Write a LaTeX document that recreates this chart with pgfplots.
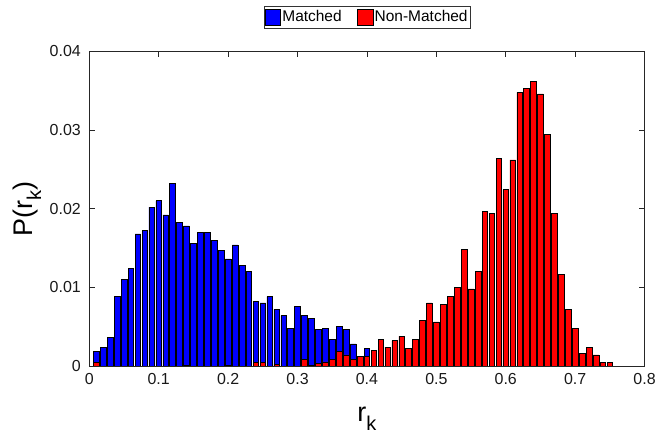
\documentclass[border=0pt]{standalone}
\usepackage{fontspec}
\setmainfont{Liberation Sans}
\usepackage{pgfplots}
\pgfplotsset{compat=1.18}
\newcommand{\sub}[1]{\raisebox{-0.32em}{\fontsize{20}{20}\selectfont #1}}
\begin{document}
\begin{tikzpicture}
\begin{axis}[
  scale only axis,
  width=556.5pt, height=315.2pt,
  xmin=0, xmax=0.8, ymin=0, ymax=0.04,
  xtick={0,0.1,0.2,0.3,0.4,0.5,0.6,0.7,0.8},
  ytick={0,0.01,0.02,0.03,0.04},
  tick pos=both,
  tick align=inside,
  major tick length=6pt,
  tick style={draw=black!85, line width=0.6pt},
  axis line style={draw=black!85, line width=0.7pt},
  /pgf/number format/assume math mode=true,
  /pgf/number format/fixed,
  /pgf/number format/precision=2,
  scaled ticks=false,
  ticklabel style={font=\fontsize{16}{18}\selectfont, text=black!90},
  xticklabel style={yshift=-4pt},
  yticklabel style={xshift=-5pt},
  every axis x label/.style={at={(axis description cs:0.5,-0.168)}, anchor=center},
  every axis y label/.style={at={(axis description cs:-0.112,0.5)}, rotate=90, anchor=center},
  label style={font=\fontsize{27}{30}\selectfont},
  xlabel={r\sub{k}},
  ylabel={P(r\sub{k})},
  legend columns=2,
  legend style={at={(0.5,1.1444)}, anchor=north, draw=black!80, line width=0.6pt,
    font=\fontsize{15.5}{18}\selectfont, inner xsep=1pt, inner ysep=2.5pt,
    nodes={inner xsep=1.5pt, inner ysep=1.5pt},
    /tikz/every even column/.append style={column sep=14pt}},
]
\addplot[ybar, bar width=0.0081, bar shift=0pt, fill={rgb,1:red,0;green,0;blue,1}, draw=black, line width=0.6pt,
  legend image code/.code={\draw[fill={rgb,1:red,0;green,0;blue,1}, draw=black, line width=0.6pt] (0pt,-8pt) rectangle (15.5pt,8pt);}]
coordinates {
(0.01,0.0018) (0.02,0.0024) (0.03,0.0036) (0.04,0.0088) (0.05,0.0110)
(0.06,0.0124) (0.07,0.0168) (0.08,0.0172) (0.09,0.0202) (0.10,0.0210)
(0.11,0.0192) (0.12,0.0232) (0.13,0.0182) (0.14,0.0178) (0.15,0.0156)
(0.16,0.0170) (0.17,0.0170) (0.18,0.0160) (0.19,0.0147) (0.20,0.0136)
(0.21,0.0154) (0.22,0.0128) (0.23,0.0120) (0.24,0.0082) (0.25,0.0080)
(0.26,0.0088) (0.27,0.0072) (0.28,0.0064) (0.29,0.0048) (0.30,0.0076)
(0.31,0.0064) (0.32,0.0060) (0.33,0.0046) (0.34,0.0048) (0.35,0.0034)
(0.36,0.0050) (0.37,0.0046) (0.38,0.0028) (0.39,0.0010) (0.40,0.0022)
(0.41,0.0008)
};
\addlegendentry{Matched}
\addplot[ybar, bar width=0.0081, bar shift=0pt, fill={rgb,1:red,1;green,0;blue,0}, draw=black, line width=0.6pt,
  legend image code/.code={\draw[fill={rgb,1:red,1;green,0;blue,0}, draw=black, line width=0.6pt] (0pt,-8pt) rectangle (15.5pt,8pt);}]
coordinates {
(0.01,0.0004) (0.14,0.0001) (0.20,0.0001) (0.24,0.0004) (0.25,0.0004)
(0.27,0.0002) (0.31,0.0008) (0.32,0.0001) (0.33,0.0003) (0.34,0.0005)
(0.35,0.0008) (0.36,0.0018) (0.37,0.0014) (0.38,0.0008) (0.39,0.0012)
(0.40,0.0012) (0.41,0.0020) (0.42,0.0034) (0.43,0.0024) (0.44,0.0032)
(0.45,0.0038) (0.46,0.0022) (0.47,0.0034) (0.48,0.0058) (0.49,0.0080)
(0.50,0.0056) (0.51,0.0078) (0.52,0.0088) (0.53,0.0100) (0.54,0.0148)
(0.55,0.0098) (0.56,0.0120) (0.57,0.0196) (0.58,0.0194) (0.59,0.0264)
(0.60,0.0224) (0.61,0.0262) (0.62,0.0348) (0.63,0.0353) (0.64,0.0362)
(0.65,0.0346) (0.66,0.0294) (0.67,0.0194) (0.68,0.0116) (0.69,0.0072)
(0.70,0.0048) (0.71,0.0016) (0.72,0.0024) (0.73,0.0014) (0.74,0.0004)
(0.75,0.0004)
};
\addlegendentry{Non-Matched}
\end{axis}
\path[use as bounding box] (-89.5pt,-72.3pt) rectangle (569.5pt,366.7pt);
\end{tikzpicture}
\end{document}
